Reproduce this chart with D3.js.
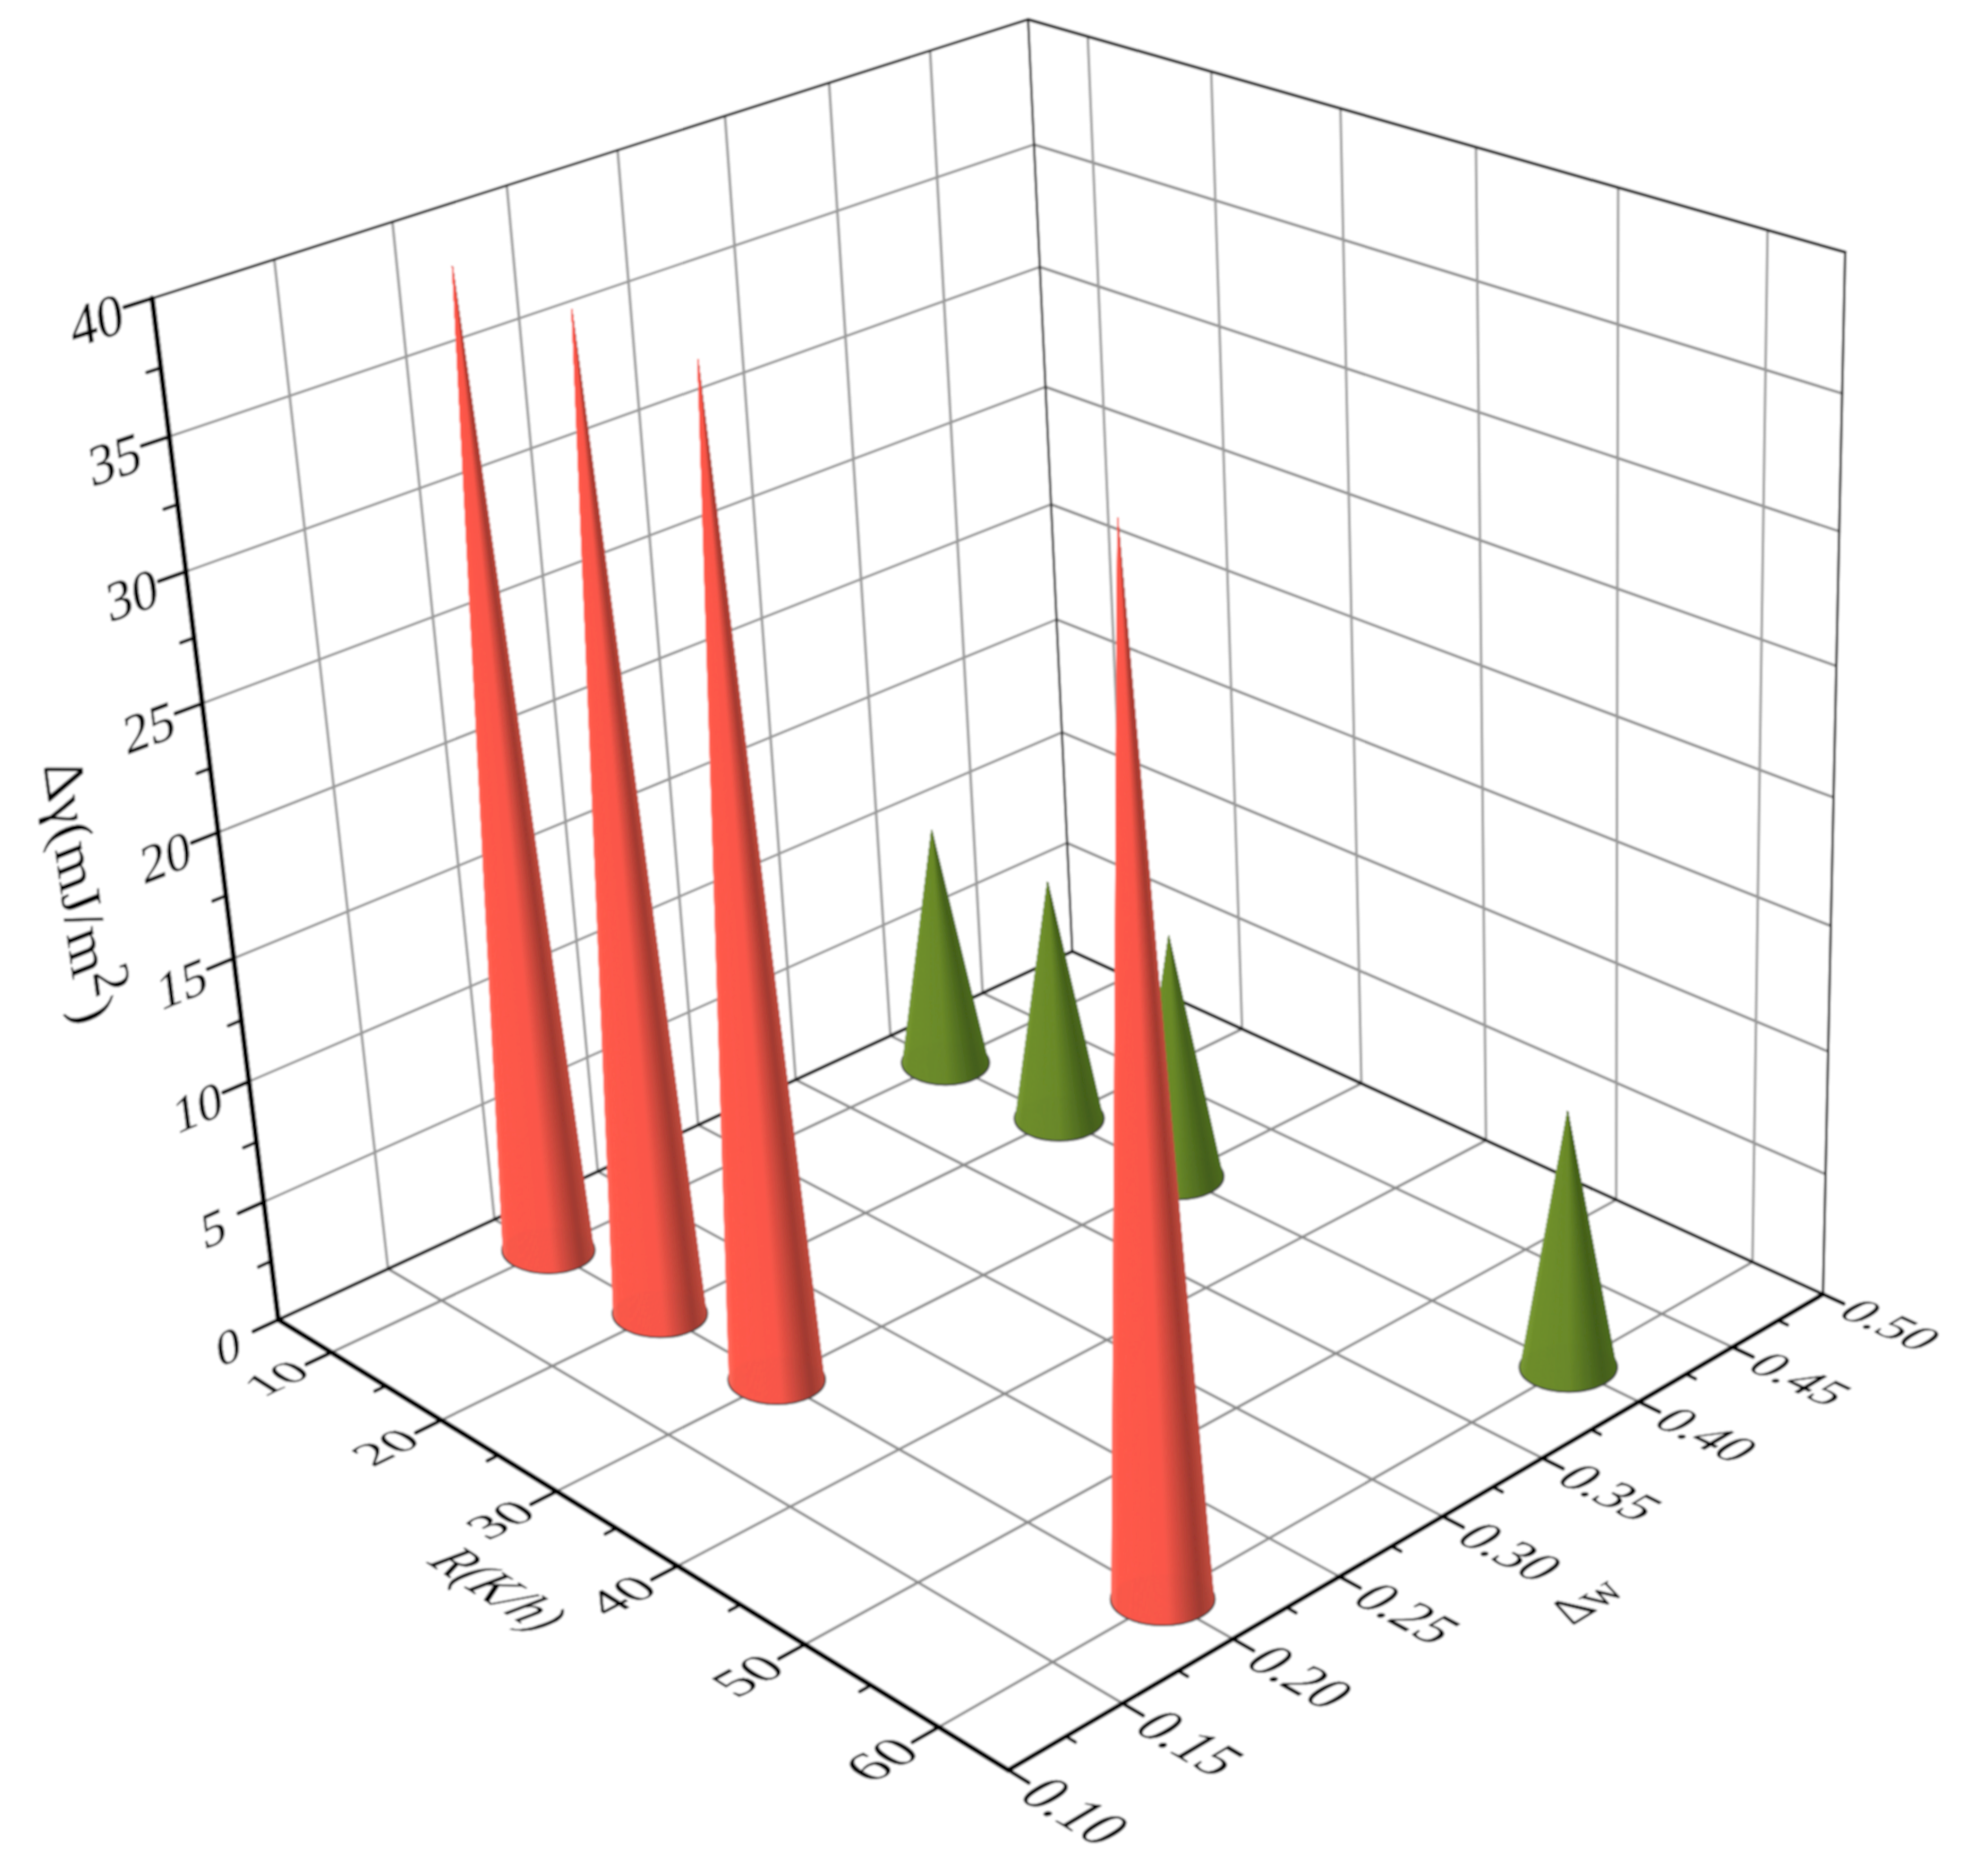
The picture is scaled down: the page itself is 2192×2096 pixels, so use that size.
<!DOCTYPE html>
<html>
<head>
<meta charset="utf-8">
<title>Cone chart</title>
<script src="https://d3js.org/d3.v7.min.js"></script>
<style>
body { margin: 0; background: #fff; }
text { font-family: "Liberation Serif", "Times New Roman", serif; fill: #000; stroke: #000; stroke-width: 0.2; }
</style>
</head>
<body>
<script>
// data
var coneR = [10, 20, 30, 60, 10, 20, 30, 60];
var coneW = [0.20, 0.20, 0.20, 0.20, 0.40, 0.40, 0.40, 0.40];
var coneH = [39.15, 39.2, 39.1, 39, 10.3, 10.3, 10.3, 10.4];
var coneGroup = ["red", "red", "red", "red", "green", "green", "green", "green"];

var rTicks = [10, 20, 30, 40, 50, 60];
var rMinor = [15, 25, 35, 45, 55];
var wTicks = [0.10, 0.15, 0.20, 0.25, 0.30, 0.35, 0.40, 0.45, 0.50];
var wMinor = [0.125, 0.175, 0.225, 0.275, 0.325, 0.375, 0.425, 0.475];
var zTicks = [0, 5, 10, 15, 20, 25, 30, 35, 40];
var zMinor = [2.5, 7.5, 12.5, 17.5, 22.5, 27.5, 32.5, 37.5];

var width = 2192, height = 2096;

// box corners on the page, the 3D view is worked out from these
var O = [311, 1474.5], B = [1126.5, 1977.7], C = [2036.7, 1446], D = [1198, 1063];
var tops = [[0, 0, [170, 336]], [0, 1, [1149, 21]], [1, 1, [2061, 280]]];

var uScale = d3.scaleLinear().domain([5, 65]).range([0, 1]);
var vScale = d3.scaleLinear().domain([0.10, 0.50]).range([0, 1]);
var tScale = d3.scaleLinear().domain([0, 40]).range([0, 1]);

// unit square to quad
var dx1 = B[0] - C[0], dx2 = D[0] - C[0], sx = O[0] - B[0] + C[0] - D[0];
var dy1 = B[1] - C[1], dy2 = D[1] - C[1], sy = O[1] - B[1] + C[1] - D[1];
var den = dx1 * dy2 - dx2 * dy1;
var g = (sx * dy2 - dx2 * sy) / den;
var h = (dx1 * sy - sx * dy1) / den;
var a = B[0] - O[0] + g * B[0], b = D[0] - O[0] + h * D[0];
var d = B[1] - O[1] + g * B[1], e = D[1] - O[1] + h * D[1];

function floorH(u, v) {
	return [a * u + b * v + O[0], d * u + e * v + O[1], g * u + h * v + 1];
}

// height column, least squares on the three top corners
var rows = tops.map(function(q) {
	var f = floorH(q[0], q[1]), x = q[2][0], y = q[2][1];
	return { x: x, y: y, r: x * f[2] - f[0], s: y * f[2] - f[1] };
});
var mx = d3.mean(rows, function(q) { return q.x; }), my = d3.mean(rows, function(q) { return q.y; });
var mr = d3.mean(rows, function(q) { return q.r; }), ms = d3.mean(rows, function(q) { return q.s; });
var pzw = -d3.sum(rows, function(q) { return (q.x - mx) * (q.r - mr) + (q.y - my) * (q.s - ms); }) /
	d3.sum(rows, function(q) { return (q.x - mx) * (q.x - mx) + (q.y - my) * (q.y - my); });
var pzx = mx * pzw + mr, pzy = my * pzw + ms;

function proj(u, v, t) {
	var f = floorH(u, v);
	var w = f[2] + t * pzw;
	return [(f[0] + t * pzx) / w, (f[1] + t * pzy) / w];
}
function P(r, wv, z) { return proj(uScale(r), vScale(wv), tScale(z)); }

var svg = d3.select("body").append("svg").attr("width", width).attr("height", height);
var defs = svg.append("defs");
defs.append("filter").attr("id", "soft").attr("x", 0).attr("y", 0).attr("width", 1).attr("height", 1)
	.attr("filterUnits", "objectBoundingBox")
	.append("feGaussianBlur").attr("stdDeviation", 1.1);
svg.append("rect").attr("width", width).attr("height", height).attr("fill", "#fff");
var root = svg.append("g").attr("filter", "url(#soft)");
root.append("rect").attr("width", width).attr("height", height).attr("fill", "#fff");

function seg(p, q, color, w) {
	root.append("line")
		.attr("x1", p[0]).attr("y1", p[1]).attr("x2", q[0]).attr("y2", q[1])
		.attr("stroke", color).attr("stroke-width", w).attr("stroke-linecap", "round");
}

var gridColor = "#8a8a8a", gridLight = "#9a9a9a", rMin = 5, rMax = 65, wMin = 0.1, wMax = 0.5, zMax = 40;

// grid on walls and floor
zTicks.slice(1, -1).forEach(function(z) {
	seg(P(rMin, wMin, z), P(rMin, wMax, z), gridColor, 2.6);
	seg(P(rMin, wMax, z), P(rMax, wMax, z), gridColor, 3);
});
wTicks.slice(1, -1).forEach(function(w) {
	seg(P(rMin, w, 0), P(rMin, w, zMax), gridLight, 3);
	seg(P(rMin, w, 0), P(rMax, w, 0), gridColor, 3);
});
rTicks.forEach(function(r) {
	seg(P(r, wMax, 0), P(r, wMax, zMax), gridLight, 2.8);
	seg(P(r, wMin, 0), P(r, wMax, 0), gridColor, 3);
});

// box edges at the back
seg(P(rMin, wMin, zMax), P(rMin, wMax, zMax), "#111", 3);
seg(P(rMin, wMax, zMax), P(rMax, wMax, zMax), "#222", 3.6);
seg(P(rMin, wMax, 0), P(rMin, wMax, zMax), "#222", 2.6);
seg(P(rMax, wMax, 0), P(rMax, wMax, zMax), "#222", 2.8);
seg(P(rMin, wMin, 0), P(rMin, wMax, 0), "#111", 3.8);
seg(P(rMin, wMax, 0), P(rMax, wMax, 0), "#111", 3.8);

// axes with ticks
seg(P(rMin, wMin, 0), P(rMin, wMin, zMax), "#000", 6);
seg(P(rMin, wMin, 0), P(rMax, wMin, 0), "#000", 6);
seg(P(rMax, wMin, 0), P(rMax, wMax, 0), "#000", 5.5);

var wStep = 0.4, rStep = 60;
zTicks.forEach(function(z) { seg(P(rMin, wMin, z), P(rMin, wMin - 0.028 * wStep, z), "#000", 4.5); });
zMinor.forEach(function(z) { seg(P(rMin, wMin, z), P(rMin, wMin - 0.014 * wStep, z), "#000", 4); });
rTicks.forEach(function(r) { seg(P(r, wMin, 0), P(r, wMin - 0.028 * wStep, 0), "#000", 4.5); });
rMinor.forEach(function(r) { seg(P(r, wMin, 0), P(r, wMin - 0.012 * wStep, 0), "#000", 4); });
wTicks.forEach(function(w) { seg(P(rMax, w, 0), P(rMax + 0.024 * rStep, w, 0), "#000", 4.5); });
wMinor.forEach(function(w) { seg(P(rMax, w, 0), P(rMax + 0.011 * rStep, w, 0), "#000", 4); });

// cones
var coneStyles = {
	red: d3.scaleLinear().domain([0, 0.07, 0.55, 0.87, 1]).range(["#ff6f60", "#ff5a4b", "#fb584a", "#a03a30", "#c24c3f"]),
	green: d3.scaleLinear().domain([0, 0.07, 0.5, 0.87, 1]).range(["#7a9a35", "#6f8f2b", "#6b8a2a", "#44601b", "#4f6c1f"])
};
var coneA = 48.5, coneB = 24;

var order = d3.range(coneR.length).sort(function(i, j) {
	return (uScale(coneR[i]) - vScale(coneW[i])) - (uScale(coneR[j]) - vScale(coneW[j]));
});

order.forEach(function(i) {
	var u = uScale(coneR[i]), v = vScale(coneW[i]);
	var c = P(coneR[i], coneW[i], 0), tip = P(coneR[i], coneW[i], coneH[i]);
	var s = 1.0625 / floorH(u, v)[2];
	var shade = coneStyles[coneGroup[i]];
	var cg = root.append("g");
	cg.append("ellipse")
		.attr("cx", c[0]).attr("cy", c[1]).attr("rx", coneA * s + 1.5).attr("ry", coneB * s + 1.5)
		.attr("fill", "#444").attr("stroke", "#333").attr("stroke-width", 1.5);
	var n = 120, th = d3.range(n).map(function(k) { return k / n * 2 * Math.PI; });
	th.sort(function(p, q) { return Math.sin(p) - Math.sin(q); });
	th.forEach(function(t0) {
		var t1 = t0 + 2 * Math.PI / n, tm = (t0 + t1) / 2;
		var p0 = [c[0] + coneA * s * Math.cos(t0), c[1] + coneB * s * Math.sin(t0)];
		var p1 = [c[0] + coneA * s * Math.cos(t1), c[1] + coneB * s * Math.sin(t1)];
		var col = shade((1 + Math.cos(tm)) / 2);
		cg.append("path")
			.attr("d", "M" + tip + "L" + p0 + "L" + p1 + "Z")
			.attr("fill", col).attr("stroke", col).attr("stroke-width", 0.6);
	});
});

// text lying in a plane of the box: xDir and yDir are directions in u,v,t
function planeText(str, u, v, t, xDir, yDir, size, ky) {
	var k = 0.001, eps = 0.001;
	ky = ky || 1;
	var p0 = proj(u, v, t);
	var px = proj(u + xDir[0] * eps, v + xDir[1] * eps, t + xDir[2] * eps);
	var py = proj(u + yDir[0] * eps, v + yDir[1] * eps, t + yDir[2] * eps);
	var m = [(px[0] - p0[0]) / eps * k, (px[1] - p0[1]) / eps * k, (py[0] - p0[0]) / eps * k * ky, (py[1] - p0[1]) / eps * k * ky, p0[0], p0[1]];
	return root.append("text")
		.attr("transform", "matrix(" + m.join(",") + ")")
		.attr("text-anchor", "middle").attr("dy", "0.33em")
		.attr("font-size", size)
		.text(str);
}

zTicks.forEach(function(z) {
	planeText(String(z), 0, -0.056, tScale(z) - 0.004, [0, 1, 0], [0, 0, -1], 52);
});
rTicks.forEach(function(r) {
	planeText(String(r), uScale(r), -0.061, 0, [0, 1, 0], [1, 0, 0], 56);
});
wTicks.forEach(function(w) {
	planeText(w.toFixed(2), 1.078, vScale(w), 0, [1, 0, 0], [0, -1, 0], 54, 1.1);
});

planeText("R(K/h)", uScale(35), -0.127, 0, [1, 0, 0], [0, -1, 0], 56).attr("font-style", "italic");
planeText("Δw", 1.172, vScale(0.296), 0, [0, 1, 0], [1, 0, 0], 50);

var yTitle = planeText("Δγ(mJ/m", 0, -0.145, tScale(19.9), [0, 0, -1], [0, -1, 0], 57);
yTitle.append("tspan").attr("dy", "-0.4em").attr("font-size", 52).text("2");
yTitle.append("tspan").attr("dy", "0.4em").text(")");
</script>
</body>
</html>
